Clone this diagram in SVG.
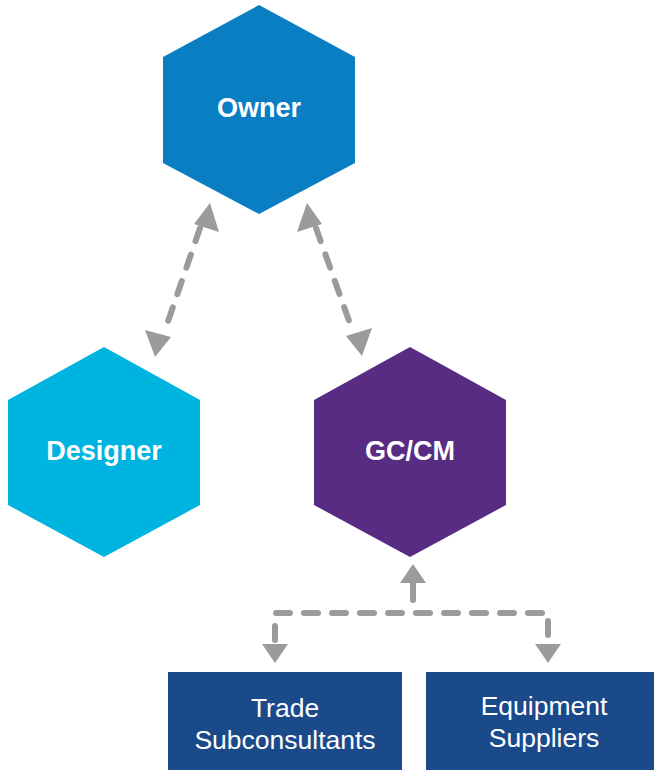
<svg xmlns="http://www.w3.org/2000/svg" width="654" height="770" viewBox="0 0 654 770">
<style>
.hexlabel{font-family:"Liberation Sans",Arial,sans-serif;font-weight:bold;font-size:27px;fill:#fff;text-anchor:middle;dominant-baseline:central}
.boxlabel{font-family:"Liberation Sans",Arial,sans-serif;font-size:26.5px;fill:#fff;text-anchor:middle}
.conn{fill:none;stroke:#9b9b9b;stroke-width:6;stroke-dasharray:14 14;stroke-linecap:round}
.solid{fill:none;stroke:#9b9b9b;stroke-width:6;stroke-linecap:round}
.head{fill:#9b9b9b}
</style>
<rect width="654" height="770" fill="#fff"/>
<g id="connectors">
<line class="conn" x1="200" y1="228" x2="164" y2="333"/>
<line class="conn" x1="316" y1="228" x2="353" y2="332"/>
<path class="head" d="M210,203 L219,232 L194,224 Z"/>
<path class="head" d="M155,357 L145,330 L171,337 Z"/>
<path class="head" d="M307,203 L322,224 L297,232 Z"/>
<path class="head" d="M362,356 L346,336 L372,328 Z"/>
<line class="solid" x1="413" y1="582" x2="413" y2="600"/>
<path class="head" d="M413,564 L426,583 L400,583 Z"/>
<path class="conn" d="M275,640 L275,613 L548,613 L548,640"/>
<path class="head" d="M262,644 L288,644 L275,663 Z"/>
<path class="head" d="M535,644 L561,644 L548,663 Z"/>
</g>
<g id="owner">
<polygon points="259,5 355,57 355,163 259,214 163,163 163,57" fill="#0a7ec2"/>
<text class="hexlabel" x="259" y="108">Owner</text>
</g>
<g id="designer">
<polygon points="104,347 200,400 200,505 104,557 8,505 8,400" fill="#00b4e0"/>
<text class="hexlabel" x="104" y="451">Designer</text>
</g>
<g id="gccm">
<polygon points="410,347 506,400 506,505 410,557 314,505 314,400" fill="#582c83"/>
<text class="hexlabel" x="410" y="451">GC/CM</text>
</g>
<g id="trade">
<rect x="168" y="672" width="234" height="98" fill="#1a4a8a"/>
<text class="boxlabel" x="285" y="717">Trade</text>
<text class="boxlabel" x="285" y="749">Subconsultants</text>
</g>
<g id="equipment">
<rect x="426" y="672" width="228" height="98" fill="#1a4a8a"/>
<text class="boxlabel" x="544" y="715">Equipment</text>
<text class="boxlabel" x="544" y="747">Suppliers</text>
</g>
</svg>
